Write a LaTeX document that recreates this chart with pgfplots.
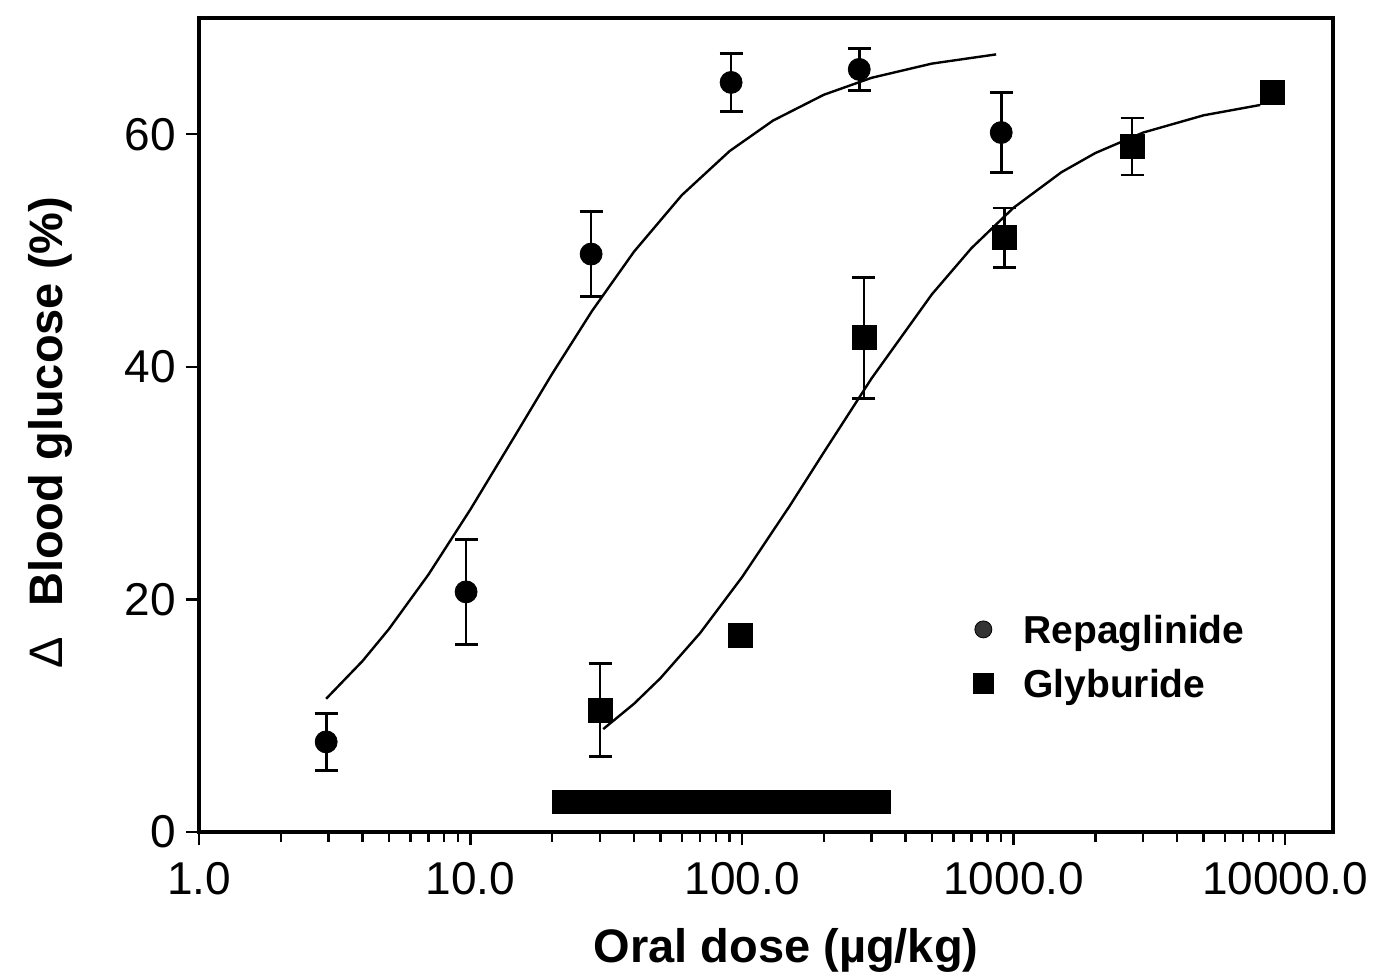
\documentclass[border=0pt]{standalone}
\usepackage{fontspec}
\setmainfont{Liberation Sans}
\usepackage{pgfplots}
\pgfplotsset{compat=1.18}
\usepackage{pgfplotstable}

% mean response and error (SEM) per oral dose
\pgfplotstableread{
x y e
2.94 7.75 2.45
9.63 20.65 4.5
27.8 49.7 3.66
91.1 64.46 2.5
270 65.58 1.8
900 60.15 3.45
}\repag

\pgfplotstableread{
x y e
30.0 10.5 4.0
98.4 16.95 0
281 42.5 5.2
923 51.1 2.55
2731 58.95 2.45
8960 63.6 0
}\glyb

% fitted dose-response curves
\pgfplotstableread{
x y
2.94 11.46
4 14.70
5 17.44
7 22.14
10 27.76
14 33.40
20 39.42
28 44.80
40 49.91
60 54.77
90 58.56
130 61.18
200 63.40
300 64.86
500 66.08
862 66.87
}\repagfit

\pgfplotstableread{
x y
30.8 8.85
40 11.03
50 13.22
70 17.10
100 21.92
150 28.07
200 32.65
300 39.02
500 46.24
700 50.22
1000 53.69
1500 56.74
2000 58.39
3000 60.15
5000 61.63
8090 62.52
}\glybfit

\begin{document}
\begin{tikzpicture}
\begin{axis}[
  scale only axis,
  width=567pt, height=407pt,
  xmode=log, xmin=1, xmax=15000,
  ymin=0, ymax=70,
  clip=false,
  axis line style={line width=1.6pt},
  tick style={line width=1.2pt, black},
  major tick length=6.5pt, minor tick length=5pt,
  tick align=outside, tick pos=left,
  xtick={1,10,100,1000,10000},
  xticklabels={1.0,10.0,100.0,1000.0,10000.0},
  ytick={0,20,40,60},
  /pgf/number format/assume math mode=true,
  ticklabel style={font=\fontsize{23}{27}\selectfont},
  xticklabel style={anchor=base, inner sep=0pt, yshift=-24.5pt},
  yticklabel style={anchor=east, inner sep=0pt, xshift=-5pt},
  xlabel={Oral dose (µg/kg)},
  ylabel={{\mdseries Δ}\hspace{15pt}Blood glucose (\%)},
  xlabel style={at={(rel axis cs:0.5176,-0.1609)}, anchor=base,
    font=\fontsize{23.5}{28}\selectfont\bfseries},
  ylabel style={at={(rel axis cs:-0.1208,0.4908)}, anchor=base, rotate=0,
    font=\fontsize{23.5}{28}\selectfont\bfseries},
  legend cell align=left,
  legend image code/.code={\draw[#1] plot coordinates {(0pt,2pt)};},
  legend style={at={(rel axis cs:0.6825,0.2666)}, anchor=north west,
    draw=none, fill=none, inner sep=0pt, row sep=9pt,
    font=\fontsize{19.5}{23}\selectfont\bfseries,
    nodes={inner sep=0pt, text height=14pt, text depth=4pt},
    /tikz/every odd column/.append style={column sep=15pt}},
]
% dosing range bar
\addplot[fill=black, draw=black, forget plot] coordinates {(20,1.6) (351,1.6) (351,3.6) (20,3.6)} -- cycle;

\addplot[black, line width=1.2pt, forget plot] table {\repagfit};
\addplot[black, line width=1.2pt, forget plot] table {\glybfit};

\addplot[only marks, mark=*, mark size=5.5pt, black, forget plot,
  error bars/.cd, y dir=both, y explicit,
  error bar style={line width=1.35pt},
  error mark options={rotate=90, mark size=5.75pt, line width=1.35pt}]
  table[x=x, y=y, y error=e] {\repag};

\addplot[only marks, mark=square*, mark size=6pt, black, forget plot,
  error bars/.cd, y dir=both, y explicit,
  error bar style={line width=1.35pt},
  error mark options={rotate=90, mark size=5.75pt, line width=1.35pt}]
  table[x=x, y=y, y error=e] {\glyb};

\addlegendimage{only marks, mark=*, mark size=4.25pt, draw=black, fill=black!80}
\addlegendentry{Repaglinide}
\addlegendimage{only marks, mark=square*, mark size=5pt, black}
\addlegendentry{Glyburide}
\end{axis}
\path (-99.5pt,-71.5pt) rectangle (592.5pt,416pt);
\end{tikzpicture}
\end{document}
